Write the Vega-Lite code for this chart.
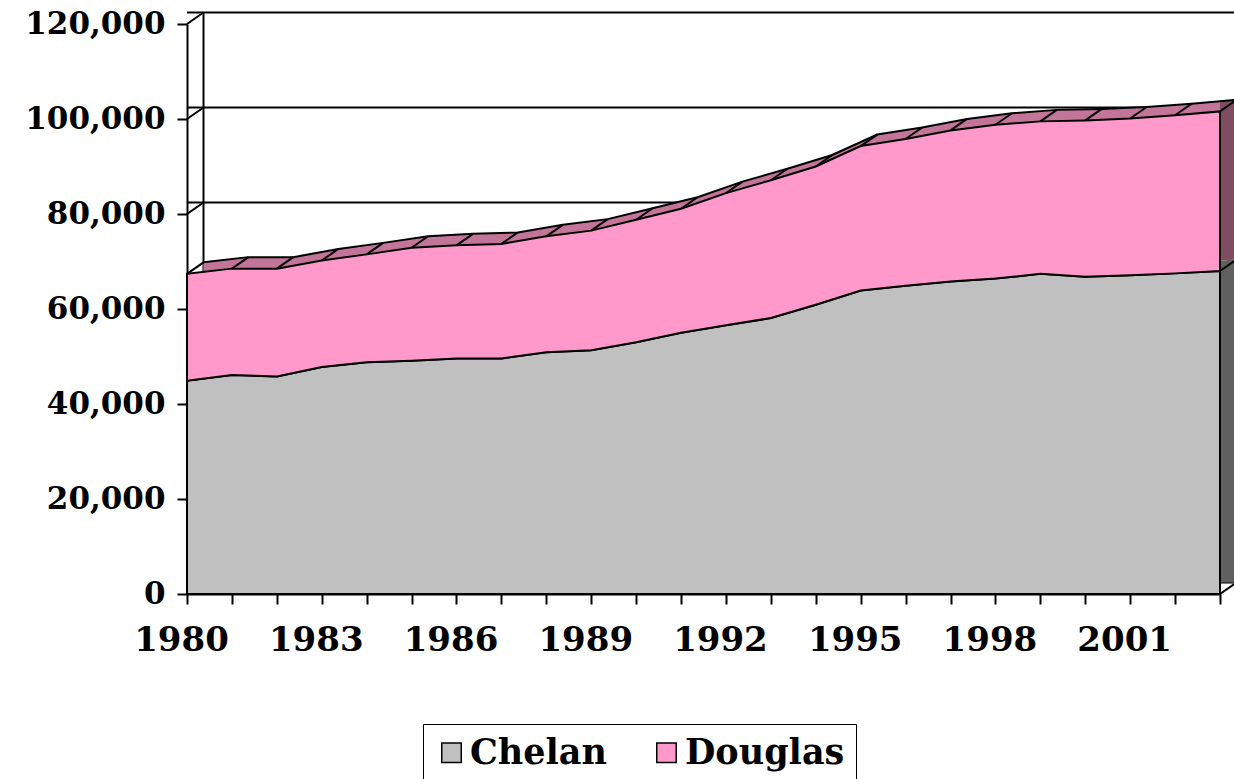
{
  "$schema": "https://vega.github.io/schema/vega-lite/v6.json",
  "width": 1033,
  "height": 570,
  "autosize": "none",
  "padding": {"left": 187, "top": 24, "right": 14, "bottom": 185},
  "background": "white",
  "config": {
    "view": {"stroke": null},
    "axis": {
      "domainColor": "black", "domainWidth": 2, "tickColor": "black", "tickWidth": 2, "tickSize": 10,
      "labelFont": "DejaVu Serif", "labelFontWeight": "bold", "labelColor": "black", "grid": false, "title": null
    }
  },
  "data": {"values": [
    {"year": 1980, "Chelan": 44900, "Total": 67400},
    {"year": 1981, "Chelan": 46100, "Total": 68500},
    {"year": 1982, "Chelan": 45800, "Total": 68500},
    {"year": 1983, "Chelan": 47800, "Total": 70200},
    {"year": 1984, "Chelan": 48800, "Total": 71500},
    {"year": 1985, "Chelan": 49100, "Total": 72900},
    {"year": 1986, "Chelan": 49600, "Total": 73400},
    {"year": 1987, "Chelan": 49600, "Total": 73700},
    {"year": 1988, "Chelan": 50900, "Total": 75300},
    {"year": 1989, "Chelan": 51300, "Total": 76500},
    {"year": 1990, "Chelan": 53000, "Total": 78800},
    {"year": 1991, "Chelan": 55000, "Total": 81100},
    {"year": 1992, "Chelan": 56600, "Total": 84400},
    {"year": 1993, "Chelan": 58100, "Total": 87100},
    {"year": 1994, "Chelan": 60900, "Total": 90000},
    {"year": 1995, "Chelan": 63900, "Total": 94300},
    {"year": 1996, "Chelan": 64900, "Total": 95800},
    {"year": 1997, "Chelan": 65800, "Total": 97600},
    {"year": 1998, "Chelan": 66400, "Total": 98800},
    {"year": 1999, "Chelan": 67400, "Total": 99500},
    {"year": 2000, "Chelan": 66800, "Total": 99700},
    {"year": 2001, "Chelan": 67100, "Total": 100100},
    {"year": 2002, "Chelan": 67500, "Total": 100800},
    {"year": 2003, "Chelan": 68000, "Total": 101600}
  ]},
  "layer": [
    {
      "data": {"values": [{"v": 0}, {"v": 20000}, {"v": 40000}, {"v": 60000}, {"v": 80000}, {"v": 100000}, {"v": 120000}]},
      "mark": {"type": "rule", "color": "black", "strokeWidth": 2, "xOffset": 16.5, "x2Offset": 16.5, "yOffset": -11.5},
      "encoding": {
        "y": {"field": "v", "type": "quantitative", "scale": {"domain": [0, 120000], "nice": false},
          "axis": {"values": [0, 20000, 40000, 60000, 80000, 100000, 120000], "labelExpr": "format(datum.value, ',')", "labelFontSize": 31, "labelPadding": 12, "labelOverlap": false, "labelFlush": false}}
      }
    },
    {
      "data": {"values": [{"year": 1980, "v": 0}, {"year": 1980, "v": 20000}, {"year": 1980, "v": 40000}, {"year": 1980, "v": 60000}, {"year": 1980, "v": 80000}, {"year": 1980, "v": 100000}, {"year": 1980, "v": 120000}, {"year": 2003, "v": 0}]},
      "mark": {"type": "rule", "color": "black", "strokeWidth": 2, "x2Offset": 16.5, "y2Offset": -11.5},
      "encoding": {
        "x": {"field": "year", "type": "quantitative", "scale": {"domain": [1980, 2003], "nice": false, "zero": false},
          "axis": {"values": [1980,1981,1982,1983,1984,1985,1986,1987,1988,1989,1990,1991,1992,1993,1994,1995,1996,1997,1998,1999,2000,2001,2002,2003],
            "labelExpr": "(datum.value - 1980) % 3 == 0 ? format(datum.value, 'd') : ''",
            "labelFontSize": 34, "labelPadding": 19, "labelOffset": -6, "labelOverlap": false, "labelBound": false, "labelFlush": false}},
        "x2": {"field": "year"},
        "y": {"field": "v", "type": "quantitative"},
        "y2": {"field": "v"}
      }
    },
    {
      "data": {"values": [{"year": 1980, "lo": 0, "hi": 120000}]},
      "mark": {"type": "rule", "color": "black", "strokeWidth": 2, "xOffset": 16.5, "yOffset": -11.5, "y2Offset": -11.5},
      "encoding": {
        "x": {"field": "year", "type": "quantitative"},
        "y": {"field": "lo", "type": "quantitative"},
        "y2": {"field": "hi"}
      }
    },
    {
      "mark": {"type": "area", "color": "#606060", "xOffset": 16.5, "yOffset": -11.5, "y2Offset": -11.5},
      "encoding": {
        "x": {"field": "year", "type": "quantitative"},
        "y": {"field": "Chelan", "type": "quantitative"}
      }
    },
    {
      "mark": {"type": "area", "color": "#7F4C62", "xOffset": 16.5, "yOffset": -11.5, "y2Offset": -11.5},
      "encoding": {
        "x": {"field": "year", "type": "quantitative"},
        "y": {"field": "Total", "type": "quantitative"},
        "y2": {"field": "Chelan"}
      }
    },
    {
      "mark": {"type": "area", "color": "#C27499", "clip": true, "xOffset": 16.5, "yOffset": -11.5, "y2Offset": -11.5},
      "encoding": {
        "x": {"field": "year", "type": "quantitative"},
        "y": {"field": "Total", "type": "quantitative"},
        "y2": {"field": "Chelan"}
      }
    },
    {
      "mark": {"type": "line", "color": "black", "strokeWidth": 2, "xOffset": 16.5, "yOffset": -11.5},
      "encoding": {
        "x": {"field": "year", "type": "quantitative"},
        "y": {"field": "Total", "type": "quantitative"}
      }
    },
    {
      "mark": {"type": "area", "opacity": 1, "stroke": "black", "strokeWidth": 2},
      "encoding": {
        "x": {"field": "year", "type": "quantitative"},
        "y": {"field": "Chelan", "type": "quantitative"},
        "color": {"datum": "Chelan", "type": "nominal",
          "scale": {"domain": ["Chelan", "Douglas"], "range": ["#C0C0C0", "#FF99CC"]},
          "legend": {"title": null, "orient": "none", "legendX": 236, "legendY": 700, "direction": "horizontal",
            "symbolType": "square", "symbolSize": 380, "symbolStrokeColor": "black", "symbolStrokeWidth": 1.5, "symbolOpacity": 1,
            "labelFont": "DejaVu Serif", "labelFontWeight": "bold", "labelFontSize": 35, "labelColor": "black", "labelOffset": 1,
            "columnPadding": 42, "padding": 11, "strokeColor": "black", "fillColor": "white", "labelLimit": 400}}
      }
    },
    {
      "mark": {"type": "area", "opacity": 1, "stroke": "black", "strokeWidth": 2},
      "encoding": {
        "x": {"field": "year", "type": "quantitative"},
        "y": {"field": "Total", "type": "quantitative"},
        "y2": {"field": "Chelan"},
        "color": {"datum": "Douglas", "type": "nominal"}
      }
    },
    {
      "mark": {"type": "rule", "color": "black", "strokeWidth": 2, "x2Offset": 16.5, "y2Offset": -11.5},
      "encoding": {
        "x": {"field": "year", "type": "quantitative"},
        "x2": {"field": "year"},
        "y": {"field": "Total", "type": "quantitative"},
        "y2": {"field": "Total"}
      }
    },
    {
      "transform": [{"filter": "datum.year == 2003"}],
      "mark": {"type": "rule", "color": "black", "strokeWidth": 2, "x2Offset": 16.5, "y2Offset": -11.5},
      "encoding": {
        "x": {"field": "year", "type": "quantitative"},
        "x2": {"field": "year"},
        "y": {"field": "Chelan", "type": "quantitative"},
        "y2": {"field": "Chelan"}
      }
    }
  ]
}
